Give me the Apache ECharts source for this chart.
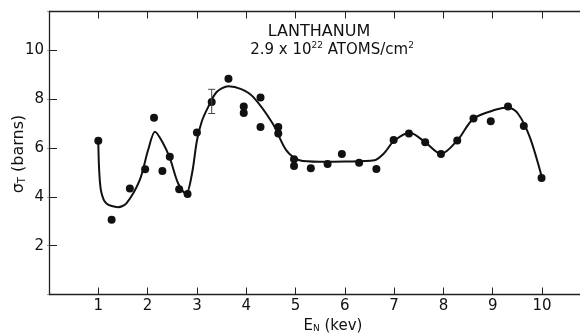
<!DOCTYPE html>
<html>
<head>
<meta charset="utf-8">
<script src="https://cdn.jsdelivr.net/npm/echarts@6/dist/echarts.min.js"></script>
<style>
html,body{margin:0;padding:0;background:#fff;}
#chart{width:580px;height:333px;}
</style>
</head>
<body>
<div id="chart"></div>
<script>
// Measured points: [E_N (keV), sigma_T (barns)]
const measuredX = [1.0, 1.27, 1.64, 1.95, 2.13, 2.30, 2.45, 2.64, 2.81, 3.0, 3.30, 3.64, 3.95, 3.95, 4.29, 4.29, 4.65, 4.65, 4.97, 4.97, 5.31, 5.65, 5.94, 6.29, 6.64, 6.99, 7.30, 7.63, 7.95, 8.28, 8.61, 8.96, 9.31, 9.63, 9.99];
const measuredY = [6.3, 3.06, 4.35, 5.13, 7.25, 5.06, 5.65, 4.31, 4.12, 6.64, 7.89, 8.84, 7.71, 7.44, 8.07, 6.87, 6.87, 6.6, 5.54, 5.27, 5.17, 5.35, 5.76, 5.4, 5.14, 6.33, 6.6, 6.24, 5.76, 6.31, 7.21, 7.1, 7.71, 6.91, 4.78];

// Fitted curve
const curveX = [1.0, 1.02, 1.06, 1.16, 1.40, 1.57, 1.84, 2.01, 2.15, 2.30, 2.45, 2.62, 2.78, 2.9, 3.0, 3.1, 3.23, 3.4, 3.64, 3.9, 4.14, 4.54, 4.81, 5.08, 5.49, 6.0, 6.6, 6.8, 7.0, 7.32, 7.63, 7.95, 8.28, 8.61, 9.07, 9.31, 9.51, 9.75, 10.0];
const curveY = [6.2, 5.0, 4.2, 3.74, 3.58, 3.74, 4.69, 5.92, 6.67, 6.25, 5.6, 4.55, 4.12, 4.95, 6.3, 7.1, 7.69, 8.3, 8.54, 8.42, 8.1, 7.0, 5.92, 5.5, 5.44, 5.45, 5.5, 5.8, 6.3, 6.63, 6.24, 5.76, 6.31, 7.21, 7.58, 7.67, 7.42, 6.46, 4.78];

// Representative error bar: [x, low, high]
const errorBar = [[3.30, 7.42, 8.41]];

const xTicks = [1,2,3,4,5,6,7,8,9,10];
const yTicks = [2,4,6,8,10];

const FONT = 'DejaVu Sans';
const chart = echarts.init(document.getElementById('chart'), null, {renderer: 'canvas'});

const axisLineStyle = {color: '#222', width: 1.3};
const tickStyle = {color: '#222', width: 1};

chart.setOption({
  animation: false,
  backgroundColor: '#fff',
  grid: {left: 49, top: 11.5, right: 0, height: 283, containLabel: false},
  xAxis: [{
    type: 'value', min: 0, max: 10.77, interval: 1,
    axisLine: {show: true, lineStyle: axisLineStyle},
    axisTick: {show: true, inside: true, length: 7, lineStyle: tickStyle},
    splitLine: {show: false},
    axisLabel: {
      margin: 4, fontFamily: FONT, fontSize: 15, color: '#111',
      showMaxLabel: false,
      formatter: v => xTicks.indexOf(Math.round(v)) >= 0 && Math.abs(v - Math.round(v)) < 1e-6 ? String(Math.round(v)) : ''
    }
  }, {
    type: 'value', min: 0, max: 10.77, interval: 1, position: 'top',
    axisLine: {show: true, onZero: false, lineStyle: axisLineStyle},
    axisTick: {show: true, inside: true, length: 7, lineStyle: tickStyle},
    splitLine: {show: false},
    axisLabel: {show: false}
  }],
  yAxis: [{
    type: 'value', min: 0, max: 11.6, interval: 2,
    axisLine: {show: true, lineStyle: axisLineStyle},
    axisTick: {show: true, inside: true, length: 8, lineStyle: tickStyle},
    splitLine: {show: false},
    axisLabel: {
      margin: 5, fontFamily: FONT, fontSize: 15, color: '#111',
      showMaxLabel: false,
      formatter: v => yTicks.indexOf(Math.round(v)) >= 0 && Math.abs(v - Math.round(v)) < 1e-6 ? String(Math.round(v)) : ''
    }
  }, {
    type: 'value', min: 0, max: 11.6, interval: 2, position: 'right',
    axisLine: {show: false},
    axisTick: {show: true, inside: true, length: 2, lineStyle: {color: '#999', width: 1}},
    splitLine: {show: false},
    axisLabel: {show: false}
  }],
  series: [{
    type: 'line',
    data: curveX.map((x, i) => [x, curveY[i]]),
    smooth: 0.3,
    showSymbol: false,
    symbol: 'none',
    lineStyle: {color: '#111', width: 2},
    z: 2
  }, {
    type: 'scatter',
    data: measuredX.map((x, i) => [x, measuredY[i]]),
    symbol: 'circle',
    symbolSize: 8,
    itemStyle: {color: '#111', opacity: 1},
    z: 3
  }, {
    type: 'custom',
    data: errorBar,
    renderItem: function (params, api) {
      const x = api.value(0);
      const top = api.coord([x, api.value(2)]);
      const bot = api.coord([x, api.value(1)]);
      const cap = 3.5;
      const st = {stroke: '#444', lineWidth: 1};
      return {
        type: 'group',
        children: [
          {type: 'line', shape: {x1: top[0], y1: top[1], x2: bot[0], y2: bot[1]}, style: st},
          {type: 'line', shape: {x1: top[0] - cap, y1: top[1], x2: top[0] + cap, y2: top[1]}, style: st},
          {type: 'line', shape: {x1: bot[0] - cap, y1: bot[1], x2: bot[0] + cap, y2: bot[1]}, style: st}
        ]
      };
    },
    z: 4
  }],
  graphic: [{
    type: 'text', x: 319, y: 32,
    style: {text: 'LANTHANUM', font: '16px "DejaVu Sans"', fill: '#111', textAlign: 'center', textVerticalAlign: 'middle'}
  }, {
    type: 'text', x: 332, y: 50,
    style: {
      text: '2.9 x 10{sup|22} ATOMS/cm{sup|2}',
      font: '15px "DejaVu Sans"', fill: '#111', textAlign: 'center', textVerticalAlign: 'middle',
      rich: {sup: {fontSize: 9, fontFamily: FONT, fill: '#111', verticalAlign: 'top', padding: [0, 0, 8, 0]}}
    }
  }, {
    type: 'text', x: 19, y: 154, rotation: Math.PI / 2,
    style: {
      text: 'σ{sub|T} (barns)',
      font: '16px "DejaVu Sans"', fill: '#111', textAlign: 'center', textVerticalAlign: 'middle',
      rich: {sub: {fontSize: 10, fontFamily: FONT, fill: '#111', verticalAlign: 'bottom', padding: [6, 0, 0, 0]}}
    }
  }, {
    type: 'text', x: 333, y: 326,
    style: {
      text: 'E{sub|N} (kev)',
      font: '15px "DejaVu Sans"', fill: '#111', textAlign: 'center', textVerticalAlign: 'middle',
      rich: {sub: {fontSize: 9, fontFamily: FONT, fill: '#111', verticalAlign: 'bottom', padding: [6, 0, 0, 0]}}
    }
  }]
});
</script>
</body>
</html>
